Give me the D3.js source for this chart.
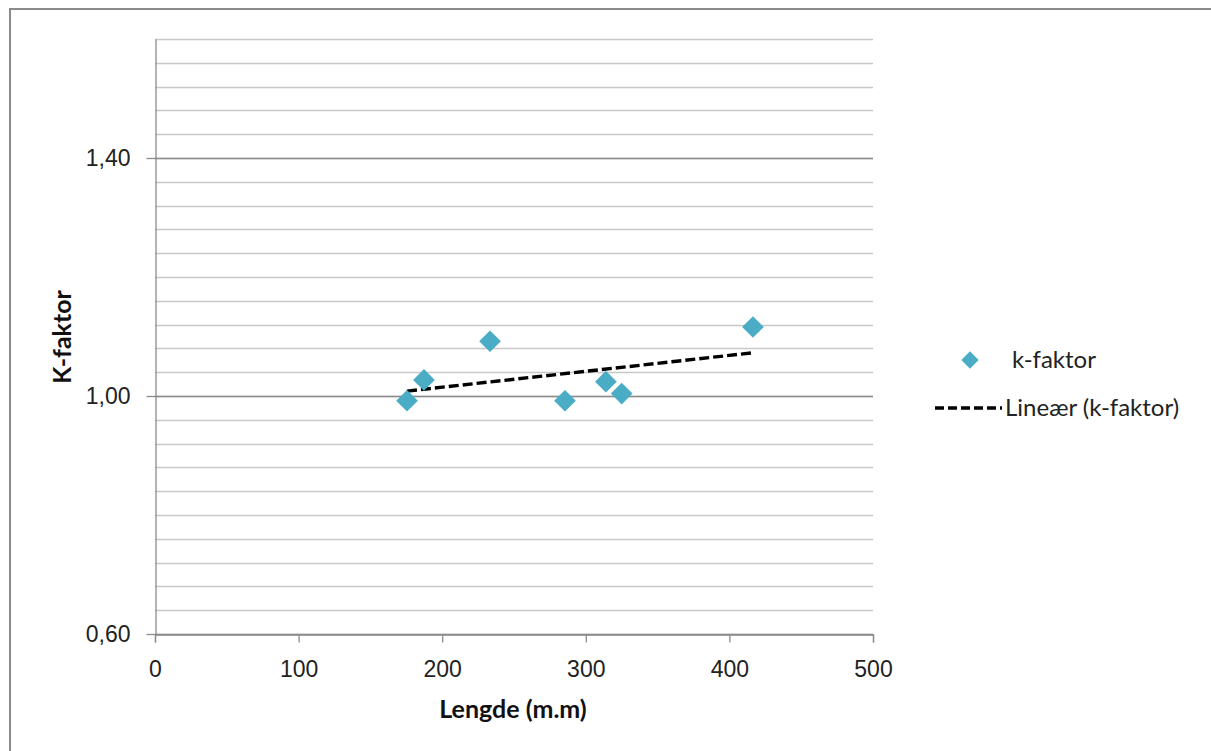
<!DOCTYPE html>
<html>
<head>
<meta charset="utf-8">
<script src="https://cdn.jsdelivr.net/npm/d3@7"></script>
<style>
  html, body { margin: 0; padding: 0; background: #fff; }
  svg { display: block; font-family: "Lato", "Open Sans", sans-serif; }
</style>
</head>
<body>
<svg id="chart" width="1211" height="751"></svg>
<script>
// Fish length (mm) vs condition factor
const lengths = [175.5, 187.3, 233.3, 285.5, 314, 325, 416.4];
const kFactors = [0.992, 1.027, 1.092, 0.992, 1.024, 1.004, 1.116];
const xTicks = [0, 100, 200, 300, 400, 500];
const yMajorTicks = [0.6, 1.0, 1.4];
const seriesName = "k-faktor";
const trendName = "Lineær (k-faktor)";

const svg = d3.select("#chart");
const plot = { left: 155, right: 873, top: 39, bottom: 634 };
const FS = 23;

const x = d3.scaleLinear().domain([0, 500]).range([plot.left, plot.right]);
const y = d3.scaleLinear().domain([0.6, 1.6]).range([plot.bottom, plot.top]);

// outer chart border
svg.append("rect")
  .attr("x", 10).attr("y", 9)
  .attr("width", 1300).attr("height", 800)
  .attr("fill", "none").attr("stroke", "#8a8a8a").attr("stroke-width", 2);

// minor gridlines every 0.04
const minor = d3.range(0, 26).map(i => +(0.6 + i * 0.04).toFixed(2));
svg.append("g").selectAll("line").data(minor).join("line")
  .attr("x1", plot.left).attr("x2", plot.right)
  .attr("y1", d => Math.round(y(d)) + 0.5).attr("y2", d => Math.round(y(d)) + 0.5)
  .attr("stroke", "#c8c8c8").attr("stroke-width", 1.3);

// major gridlines
svg.append("g").selectAll("line").data(yMajorTicks).join("line")
  .attr("x1", plot.left).attr("x2", plot.right)
  .attr("y1", d => Math.round(y(d)) + 0.5).attr("y2", d => Math.round(y(d)) + 0.5)
  .attr("stroke", "#8c8c8c").attr("stroke-width", 1.3);

// y axis
const yAxis = d3.axisLeft(y).tickValues(yMajorTicks).tickSize(9).tickSizeOuter(0).tickPadding(16)
  .tickFormat(d => d3.format(".2f")(d).replace(".", ","));
const gy = svg.append("g").attr("transform", `translate(${plot.left + 0.5},0)`).call(yAxis);
gy.select(".domain").attr("stroke", "#8c8c8c").attr("stroke-width", 1.3);
gy.selectAll(".tick line").attr("stroke", "#8c8c8c").attr("stroke-width", 1.3);
gy.selectAll(".tick text").attr("font-size", FS).attr("fill", "#222");

// x axis
const xAxis = d3.axisBottom(x).tickValues(xTicks).tickSize(8).tickPadding(18)
  .tickSizeOuter(8);
const gx = svg.append("g").attr("transform", `translate(0,${Math.round(y(0.6)) + 0.5})`).call(xAxis);
gx.select(".domain").attr("stroke", "#8c8c8c").attr("stroke-width", 1.3);
gx.selectAll(".tick line").attr("stroke", "#8c8c8c").attr("stroke-width", 1.3);
gx.selectAll(".tick text").attr("font-size", FS).attr("fill", "#222");

// axis titles
svg.append("text")
  .attr("x", 513).attr("y", 718)
  .attr("text-anchor", "middle").attr("font-size", 25).attr("font-weight", "bold")
  .attr("fill", "#111").text("Lengde (m.m)");
svg.append("text")
  .attr("transform", `translate(71,337) rotate(-90)`)
  .attr("text-anchor", "middle").attr("font-size", 25).attr("font-weight", "bold")
  .attr("fill", "#111").text("K-faktor");

// least-squares trendline over the data range
const mx = d3.mean(lengths), my = d3.mean(kFactors);
const slope = d3.sum(lengths, (v, i) => (v - mx) * (kFactors[i] - my)) /
              d3.sum(lengths, v => (v - mx) ** 2);
const intercept = my - slope * mx;
const [xMin, xMax] = d3.extent(lengths);
const trend = [[xMin, intercept + slope * xMin], [xMax, intercept + slope * xMax]];
svg.append("path")
  .attr("d", d3.line().x(d => x(d[0])).y(d => y(d[1]))(trend))
  .attr("stroke", "#000").attr("stroke-width", 3.4)
  .attr("stroke-dasharray", "10,4").attr("fill", "none");

// diamond markers
const diamond = d3.symbol().type(d3.symbolDiamond2).size(300);
svg.append("g").selectAll("path").data(lengths).join("path")
  .attr("d", diamond)
  .attr("transform", (d, i) => `translate(${x(d)},${y(kFactors[i])})`)
  .attr("fill", "#4bacc6");

// legend
const lg = svg.append("g");
lg.append("path")
  .attr("d", d3.symbol().type(d3.symbolDiamond2).size(190))
  .attr("transform", "translate(970,360)")
  .attr("fill", "#4bacc6");
lg.append("text").attr("x", 1012).attr("y", 368)
  .attr("font-size", 24).attr("fill", "#222").text(seriesName);
lg.append("line")
  .attr("x1", 935).attr("x2", 1002).attr("y1", 408).attr("y2", 408)
  .attr("stroke", "#000").attr("stroke-width", 3.4).attr("stroke-dasharray", "9,4");
lg.append("text").attr("x", 1005).attr("y", 416)
  .attr("font-size", 24).attr("fill", "#222").text(trendName);
</script>
</body>
</html>
